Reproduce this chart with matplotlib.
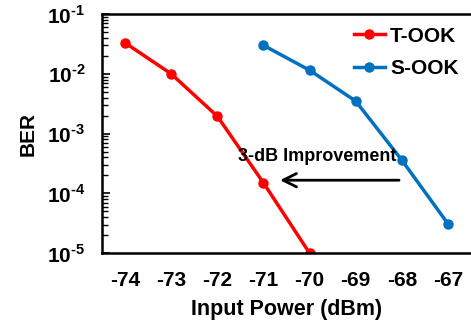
import matplotlib
matplotlib.use("Agg")
import matplotlib.pyplot as plt
from matplotlib.ticker import LogLocator, NullFormatter

plt.rcParams['font.family'] = ['Liberation Sans', 'DejaVu Sans']
plt.rcParams['font.weight'] = 'bold'
plt.rcParams['mathtext.fontset'] = 'custom'
plt.rcParams['mathtext.rm'] = 'Liberation Sans:bold'
plt.rcParams['mathtext.bf'] = 'Liberation Sans:bold'
plt.rcParams['axes.unicode_minus'] = False

# data
power_t = [-74, -73, -72, -71, -70]
ber_t = [3.3e-2, 1.0e-2, 1.95e-3, 1.5e-4, 1.0e-5]
power_s = [-71, -70, -69, -68, -67]
ber_s = [3.0e-2, 1.15e-2, 3.5e-3, 3.6e-4, 3.1e-5]
xticks = [-74, -73, -72, -71, -70, -69, -68, -67]
yticks = [1e-5, 1e-4, 1e-3, 1e-2, 1e-1]

fig = plt.figure(figsize=(4.71, 3.2), dpi=100)
ax = fig.add_axes([0.2166, 0.209, 0.7834, 0.747])

ax.plot(power_t, ber_t, color='#FF0000', lw=2.5, marker='o', ms=6.5, label='T-OOK')
ax.plot(power_s, ber_s, color='#0070C0', lw=2.5, marker='o', ms=6.5, label='S-OOK')

ax.set_yscale('log')
ax.set_ylim(1e-5, 1e-1)
ax.set_xlim(-74.5, -66.5)
ax.set_xticks(xticks)
ax.set_xticklabels([str(v) for v in xticks], fontsize=15, fontweight='bold')
ax.set_yticks(yticks)
ax.set_yticklabels([r'$10^{\text{-}%d}$' % e for e in range(5, 0, -1)], fontsize=15)
ax.yaxis.set_minor_locator(LogLocator(base=10, subs=range(2, 10)))
ax.yaxis.set_minor_formatter(NullFormatter())
ax.tick_params(axis='y', which='major', direction='in', length=6, width=1.2, pad=12)
ax.tick_params(axis='y', which='minor', direction='in', length=4, width=1)
ax.tick_params(axis='x', length=0, pad=13)

for s in ['left', 'bottom', 'top']:
    ax.spines[s].set_linewidth(1.8)
ax.spines['right'].set_visible(False)

ax.set_xlabel('Input Power (dBm)', fontsize=15.5, fontweight='bold', labelpad=6)
ax.set_ylabel('BER', fontsize=15, fontweight='bold', labelpad=7)

ax.annotate('', xy=(-70.7, 1.66e-4), xytext=(-68.0, 1.66e-4),
            arrowprops=dict(arrowstyle='->', lw=2, color='black', mutation_scale=24))
ax.text(-69.84, 4.1e-4, '3-dB Improvement', fontsize=13, fontweight='bold',
        ha='center', va='center')

ax.legend(loc='upper right', frameon=False, handlelength=1.5,
          handletextpad=0.25, labelspacing=0.65, borderaxespad=0.2,
          prop={'weight': 'bold', 'size': 15})

fig.savefig('out.png', dpi=100)
